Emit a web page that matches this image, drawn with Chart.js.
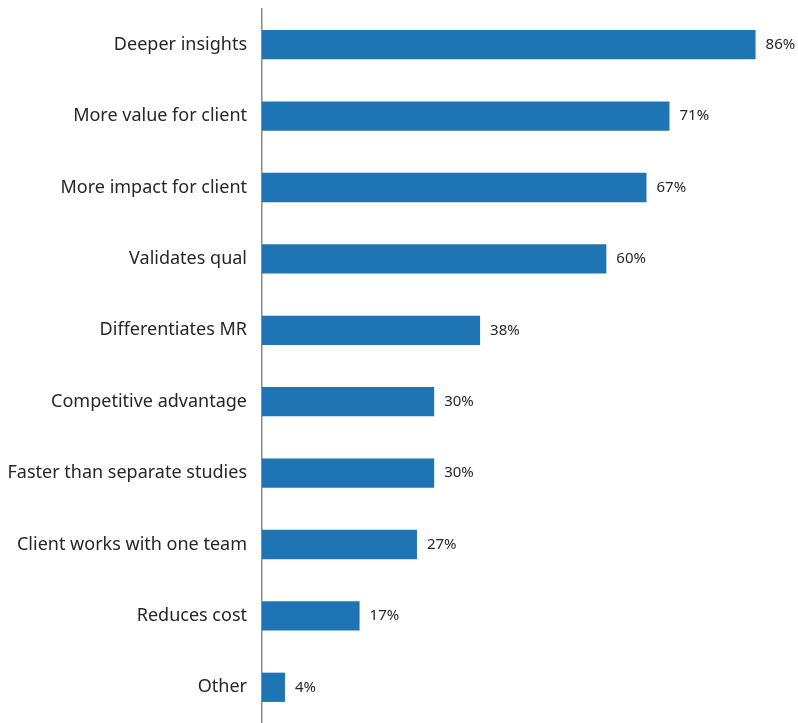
<!DOCTYPE html>
<html>
<head>
<meta charset="utf-8">
<script src="https://cdn.jsdelivr.net/npm/chart.js@4/dist/chart.umd.min.js"></script>
<style>
  html, body { margin: 0; padding: 0; background: #fff; }
  #wrap { width: 798px; height: 723px; position: relative; }
</style>
</head>
<body>
<div id="wrap"><canvas id="benefitsChart"></canvas></div>
<script>
// Benefits of combining qual and quant (% of respondents)
const categories = [
  'Deeper insights',
  'More value for client',
  'More impact for client',
  'Validates qual',
  'Differentiates MR',
  'Competitive advantage',
  'Faster than separate studies',
  'Client works with one team',
  'Reduces cost',
  'Other'
];
const percentages = [86, 71, 67, 60, 38, 30, 30, 27, 17, 4];

const barColor = '#1f74b4';
const textColor = '#262626';

// writes "NN%" just past the end of each bar
const valueLabels = {
  id: 'valueLabels',
  afterDatasetsDraw(chart) {
    const ctx = chart.ctx;
    const meta = chart.getDatasetMeta(0);
    ctx.save();
    ctx.font = '15px "Noto Sans", sans-serif';
    ctx.fillStyle = textColor;
    ctx.textAlign = 'left';
    ctx.textBaseline = 'middle';
    meta.data.forEach((bar, i) => {
      ctx.fillText(percentages[i] + '%', bar.x + 10, bar.y);
    });
    ctx.restore();
  }
};

new Chart(document.getElementById('benefitsChart'), {
  type: 'bar',
  data: {
    labels: categories,
    datasets: [{
      data: percentages,
      backgroundColor: barColor,
      borderWidth: 0,
      barPercentage: 0.41,
      categoryPercentage: 1.0
    }]
  },
  options: {
    indexAxis: 'y',
    responsive: true,
    maintainAspectRatio: false,
    animation: false,
    layout: { padding: { top: 9, right: 8, bottom: 0, left: 0 } },
    plugins: {
      legend: { display: false },
      tooltip: { enabled: false }
    },
    scales: {
      x: {
        display: false,
        min: 0,
        max: 92
      },
      y: {
        afterFit(scale) {
          scale.width = 262;
          // let the axis line run the full height
          scale.paddingTop = 0;
          scale.paddingBottom = 0;
        },
        grid: { display: false, drawTicks: false },
        border: { display: true, color: '#8a8a8a', width: 1.5 },
        ticks: {
          padding: 15,
          color: textColor,
          font: { family: '"Noto Sans", sans-serif', size: 18 }
        }
      }
    }
  },
  plugins: [valueLabels]
});
</script>
</body>
</html>
